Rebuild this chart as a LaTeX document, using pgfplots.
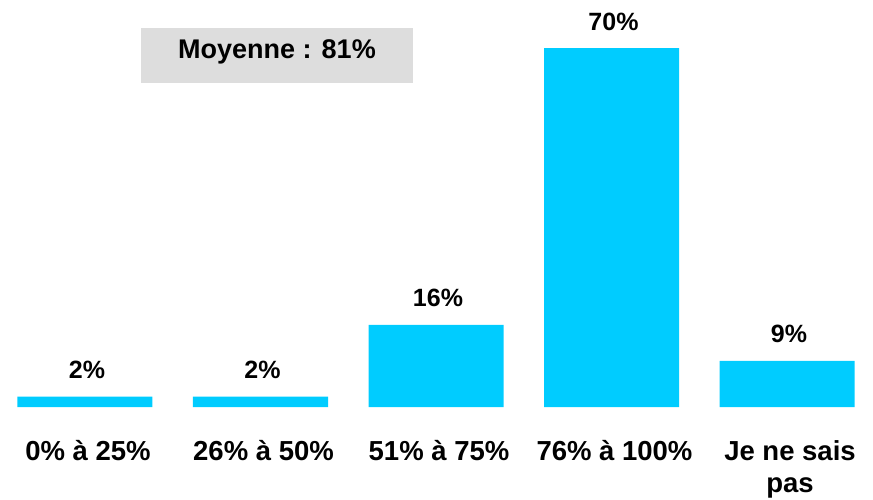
\documentclass[border=0pt]{standalone}
\usepackage{fontspec}
\setmainfont{Liberation Sans}
\usepackage{pgfplots}
\pgfplotsset{compat=1.18}
\definecolor{barcyan}{HTML}{00CCFF}
\definecolor{boxgray}{HTML}{DDDDDD}
\begin{document}
\begin{tikzpicture}
\useasboundingbox (0pt,-92pt) rectangle (873pt,407pt);
\begin{axis}[
  at={(0pt,0pt)}, anchor=south west,
  scale only axis, width=873pt, height=407pt,
  xmin=-0.4843, xmax=4.490, ymin=0, ymax=79.36,
  axis lines*=left, axis line style={draw=none},
  ytick=\empty, xtick={0,1,2,3,4},
  xticklabels={0\% à 25\%, 26\% à 50\%, 51\% à 75\%, 76\% à 100\%, Je ne sais\\pas},
  major tick length=0pt,
  xticklabel style={anchor=north, inner sep=0pt, yshift=-33pt, xshift=3pt, align=center,
    font=\fontsize{27.5}{32}\selectfont\bfseries},
  /pgf/number format/assume math mode=true,
  clip=false,
  ybar, bar width=135pt,
  nodes near coords={\pgfmathprintnumber{\pgfplotspointmeta}\%},
  nodes near coords style={anchor=base, inner sep=0pt, yshift=18pt, xshift=2pt,
    font=\fontsize{25}{30}\selectfont\bfseries, text=black},
]
\addplot[fill=barcyan, draw=none] coordinates {(0,2) (1,2) (2,16) (3,70) (4,9)};
\end{axis}
\fill[boxgray] (141pt,324pt) rectangle (413pt,379pt);
\node[anchor=base, inner sep=0pt, font=\fontsize{27}{32}\selectfont\bfseries] at (277pt,348pt) {Moyenne : 81\%};
\end{tikzpicture}
\end{document}
